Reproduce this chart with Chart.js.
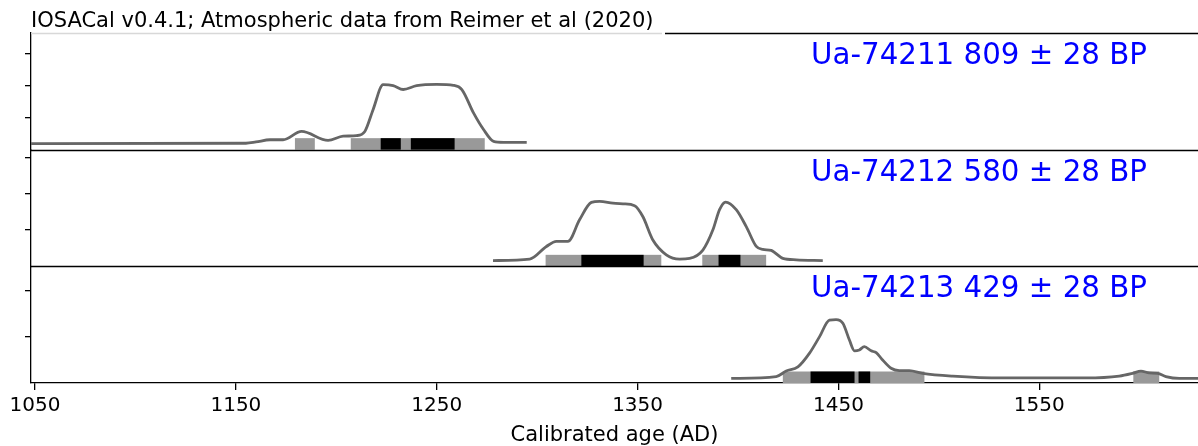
<!DOCTYPE html>
<html>
<head>
<meta charset="utf-8">
<script src="https://cdn.jsdelivr.net/npm/chart.js@4/dist/chart.umd.min.js"></script>
<style>
  html, body { margin: 0; padding: 0; background: #fff; }
  #wrap { width: 1198px; height: 446px; }
</style>
</head>
<body>
<div id="wrap"><canvas id="chart"></canvas></div>
<script>
// x axis
const xMin = 1048;
const xMax = 1629;
const xTicks = [1050, 1150, 1250, 1350, 1450, 1550];

// sample labels
const sampleLabels = ['Ua-74211 809 ± 28 BP', 'Ua-74212 580 ± 28 BP', 'Ua-74213 429 ± 28 BP'];

// Ua-74211 calibrated curve (relative probability)
const yearsA = [1048, 1155, 1160, 1167, 1173.5, 1182.7, 1195.9, 1203.4, 1210, 1214.2, 1218.3, 1223.3, 1228.3, 1233.3, 1240, 1250, 1258.3, 1262.5, 1268.3, 1273.3, 1278.3, 1283.3, 1294.8];
const probA  = [0.19, 0.20, 0.24, 0.31, 0.31, 0.57, 0.29, 0.42, 0.44, 0.57, 1.25, 2.03, 2.00, 1.88, 2.00, 2.04, 2.01, 1.88, 1.15, 0.63, 0.26, 0.23, 0.23];
const range2A = [[1179.4, 1189.3], [1207.2, 1273.9]];
const range1A = [[1222.1, 1232.1], [1237.1, 1258.9]];

// Ua-74212
const yearsB = [1278, 1296.3, 1304.6, 1309.6, 1315.3, 1321.1, 1327, 1331.1, 1337.7, 1342.7, 1348.5, 1352.6, 1357.6, 1364.3, 1370.9, 1375.9, 1382.5, 1387.5, 1390.8, 1393.8, 1399.1, 1404.1, 1409.1, 1412.3, 1416.5, 1422.3, 1429, 1442.2];
const probB  = [0.15, 0.19, 0.54, 0.68, 0.68, 1.28, 1.76, 1.79, 1.74, 1.72, 1.67, 1.37, 0.72, 0.31, 0.19, 0.21, 0.44, 1.00, 1.56, 1.77, 1.56, 1.09, 0.54, 0.46, 0.43, 0.21, 0.17, 0.15];
const range2B = [[1304.2, 1361.8], [1382.2, 1414]];
const range1B = [[1322, 1353], [1390.3, 1401.2]];

// Ua-74213
const yearsC = [1396.6, 1419, 1424, 1429.8, 1435.6, 1440.6, 1445.5, 1448.8, 1452.2, 1455.5, 1458, 1460.4, 1462.9, 1466.3, 1468.8, 1472, 1476.2, 1480.3, 1485.3, 1491.9, 1506.9, 1531.7, 1573.2, 1589.8, 1596.4, 1600.6, 1604.7, 1608.9, 1613, 1619.7, 1632];
const probC  = [0.10, 0.14, 0.26, 0.35, 0.65, 1.01, 1.37, 1.38, 1.30, 0.93, 0.70, 0.72, 0.79, 0.70, 0.66, 0.50, 0.32, 0.27, 0.27, 0.21, 0.15, 0.11, 0.11, 0.15, 0.21, 0.26, 0.22, 0.21, 0.14, 0.10, 0.10];
const range2C = [[1422.3, 1492.8], [1596.8, 1609.7]];
const range1C = [[1436.1, 1458], [1460, 1465.8]];

const panels = [
  { id: 'yA', label: sampleLabels[0], r2: range2A, r1: range1A },
  { id: 'yB', label: sampleLabels[1], r2: range2B, r1: range1B },
  { id: 'yC', label: sampleLabels[2], r2: range2C, r1: range1C }
];

const FONT = "'DejaVu Sans', sans-serif";

// ranges, separators, title and labels
const iosacalPlugin = {
  id: 'iosacal',
  beforeDatasetsDraw(chart) {
    const ctx = chart.ctx;
    const x = chart.scales.x;
    ctx.save();
    panels.forEach(p => {
      const s = chart.scales[p.id];
      const h = 11.5;
      ctx.fillStyle = '#999999';
      p.r2.forEach(([a, b]) => {
        const x0 = x.getPixelForValue(a);
        ctx.fillRect(x0, s.bottom - h, x.getPixelForValue(b) - x0, h);
      });
      ctx.fillStyle = '#000000';
      p.r1.forEach(([a, b]) => {
        const x0 = x.getPixelForValue(a);
        ctx.fillRect(x0, s.bottom - h, x.getPixelForValue(b) - x0, h);
      });
    });
    ctx.restore();
  },
  afterDraw(chart) {
    const ctx = chart.ctx;
    const {left, right, top} = chart.chartArea;
    ctx.save();
    // panel separators
    ctx.strokeStyle = '#000';
    ctx.lineWidth = 1.3;
    ['yA', 'yB'].forEach(id => {
      const yb = Math.round(chart.scales[id].bottom) + 0.5;
      ctx.beginPath();
      ctx.moveTo(left, yb);
      ctx.lineTo(right, yb);
      ctx.stroke();
    });
    // top line
    ctx.strokeStyle = '#d8d8d8';
    ctx.beginPath();
    ctx.moveTo(left, top + 0.5);
    ctx.lineTo(662, top + 0.5);
    ctx.stroke();
    ctx.strokeStyle = '#000';
    ctx.beginPath();
    ctx.moveTo(665, top + 0.5);
    ctx.lineTo(right, top + 0.5);
    ctx.stroke();

    // title
    ctx.fillStyle = '#000';
    ctx.font = '21px ' + FONT;
    ctx.textAlign = 'left';
    ctx.textBaseline = 'alphabetic';
    ctx.fillText('IOSACal v0.4.1; Atmospheric data from Reimer et al (2020)', left, 27);

    // sample labels
    ctx.fillStyle = '#0000ff';
    ctx.font = '29.3px ' + FONT;
    ctx.textAlign = 'right';
    panels.forEach(p => {
      const s = chart.scales[p.id];
      ctx.fillText(p.label, 1147, s.top + 31);
    });
    ctx.restore();
  }
};

function panelAxis(min, max, ticks) {
  return {
    type: 'linear',
    position: 'left',
    stack: 'panels',
    stackWeight: 1,
    min: min,
    max: max,
    afterBuildTicks: scale => { scale.ticks = ticks.map(v => ({ value: v })); },
    afterFit: scale => { scale.width = 31; },
    ticks: { display: false },
    grid: { drawOnChartArea: false, drawTicks: true, tickLength: 6, color: '#000', lineWidth: 1.3 },
    border: { display: true, color: '#000', width: 1.3 }
  };
}

function lineSet(years, probs, axis) {
  return {
    data: years.map((yr, i) => ({ x: yr, y: probs[i] })),
    yAxisID: axis,
    borderColor: '#666666',
    borderWidth: 2.8,
    pointRadius: 0,
    fill: false,
    cubicInterpolationMode: 'monotone'
  };
}

new Chart(document.getElementById('chart'), {
  type: 'line',
  plugins: [iosacalPlugin],
  data: {
    datasets: [
      lineSet(yearsA, probA, 'yA'),
      lineSet(yearsB, probB, 'yB'),
      lineSet(yearsC, probC, 'yC')
    ]
  },
  options: {
    responsive: true,
    maintainAspectRatio: false,
    animation: false,
    devicePixelRatio: 1,
    layout: { padding: { top: 33, left: 0, right: 0, bottom: 0 } },
    plugins: {
      legend: { display: false },
      tooltip: { enabled: false }
    },
    scales: {
      x: {
        type: 'linear',
        min: xMin,
        max: xMax,
        afterBuildTicks: scale => { scale.ticks = xTicks.map(v => ({ value: v })); },
        afterFit: scale => { scale.height = 63; },
        ticks: {
          color: '#000',
          font: { family: FONT, size: 20 },
          padding: 4,
          maxRotation: 0,
          autoSkip: false,
          callback: v => String(v)
        },
        grid: { drawOnChartArea: false, drawTicks: true, tickLength: 7, color: '#000', lineWidth: 1.3 },
        border: { display: true, color: '#000', width: 1.3 },
        title: {
          display: true,
          text: 'Calibrated age (AD)',
          color: '#000',
          font: { family: FONT, size: 21, lineHeight: 1 },
          padding: { top: 0, bottom: 0 }
        }
      },
      // stacked panels: the first one listed goes to the bottom
      yC: panelAxis(0, 2.54, [1, 2]),
      yB: panelAxis(-0.01, 3.22, [1, 2, 3]),
      yA: panelAxis(0, 3.646, [1, 2, 3])
    }
  }
});
</script>
</body>
</html>
